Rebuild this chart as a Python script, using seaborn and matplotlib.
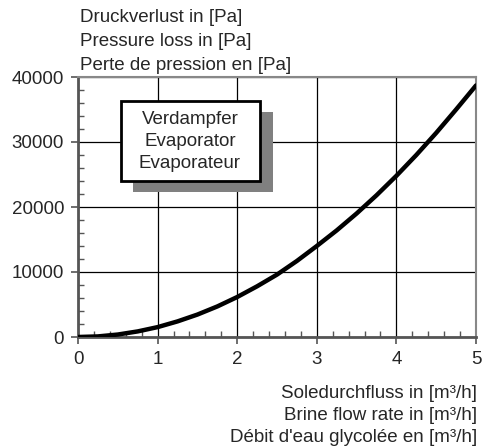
import matplotlib
matplotlib.use("Agg")
import matplotlib.pyplot as plt
import seaborn as sns
import pandas as pd
from matplotlib.patches import Rectangle
from matplotlib.ticker import MultipleLocator

flow = [0.0, 0.25, 0.5, 0.75, 1.0, 1.25, 1.5, 1.75, 2.0, 2.25, 2.5,
        2.75, 3.0, 3.25, 3.5, 3.75, 4.0, 4.25, 4.5, 4.75, 5.0]
pressure = [0, 90, 380, 860, 1520, 2400, 3450, 4700, 6150, 7800, 9600,
            11700, 14000, 16400, 19000, 21800, 24800, 28000, 31400, 35000, 38700]
ylabel_lines = ["Druckverlust in [Pa]", "Pressure loss in [Pa]", "Perte de pression en [Pa]"]
xlabel_lines = ["Soledurchfluss in [m³/h]", "Brine flow rate in [m³/h]",
                "Débit d'eau glycolée en [m³/h]"]
box_lines = ["Verdampfer", "Evaporator", "Evaporateur"]

sns.set_style("white")
plt.rcParams['font.family'] = ['Liberation Sans', 'DejaVu Sans']

FS = 13.5
W, H = 485, 446
fig = plt.figure(figsize=(W / 100, H / 100), dpi=100)
ax = fig.add_axes([78 / W, 1 - 337 / H, (476 - 78) / W, (337 - 77) / H])

df = pd.DataFrame({"flow": flow, "pressure": pressure})
sns.lineplot(data=df, x="flow", y="pressure", ax=ax, color="black", linewidth=3.2, zorder=5)

ax.set_xlim(0, 5)
ax.set_ylim(0, 40000)
ax.xaxis.set_major_locator(MultipleLocator(1))
ax.xaxis.set_minor_locator(MultipleLocator(0.2))
ax.yaxis.set_major_locator(MultipleLocator(10000))
ax.yaxis.set_minor_locator(MultipleLocator(2000))
ax.grid(True, which="major", color="black", linewidth=0.9)
ax.tick_params(which="major", direction="out", length=5, width=1.2, color="#555555",
               labelsize=FS, pad=5, bottom=True, left=True)
ax.tick_params(which="minor", direction="in", length=4, width=1.0, color="#555555",
               bottom=True, left=True)
ax.set_xlabel("")
ax.set_ylabel("")
for s in ["left", "bottom"]:
    ax.spines[s].set_color("#555555")
    ax.spines[s].set_linewidth(2.0)
for s in ["top", "right"]:
    ax.spines[s].set_color("#888888")
    ax.spines[s].set_linewidth(1.5)

for i, t in enumerate(ylabel_lines):
    fig.text(80 / W, 1 - (18 + 23.5 * i) / H, t, ha="left", va="center", fontsize=FS)
for i, t in enumerate(xlabel_lines):
    fig.text(477 / W, 1 - (393 + 22.5 * i) / H, t, ha="right", va="center", fontsize=FS)

fig.patches.append(Rectangle((133 / W, 1 - 192 / H), 140 / W, 80 / H, transform=fig.transFigure,
                             facecolor="#808080", edgecolor="none", zorder=10))
fig.patches.append(Rectangle((121 / W, 1 - 181 / H), 139 / W, 80 / H, transform=fig.transFigure,
                             facecolor="white", edgecolor="black", linewidth=2, zorder=11))
for i, t in enumerate(box_lines):
    fig.text(190 / W, 1 - (119 + 22.5 * i) / H, t, ha="center", va="center", fontsize=FS, zorder=12)

fig.savefig("out.png", dpi=100)
